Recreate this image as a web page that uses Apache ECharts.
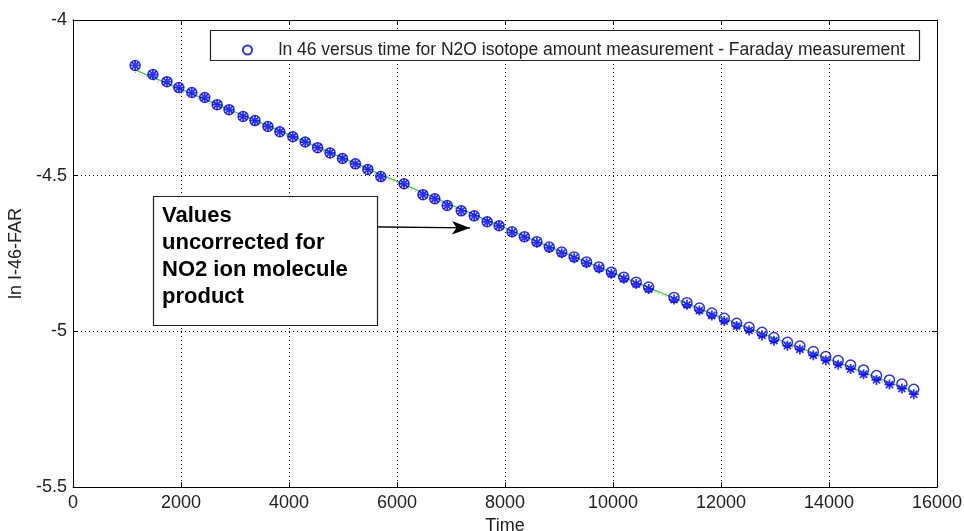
<!DOCTYPE html>
<html>
<head>
<meta charset="utf-8">
<script src="https://cdn.jsdelivr.net/npm/echarts@6/dist/echarts.min.js"></script>
<style>html,body{margin:0;padding:0;background:#fff;overflow:hidden;}#c{width:964px;height:531px;}</style>
</head>
<body>
<div id="c"></div>
<script>
// ---- data ----
const times = [1150,1480,1740,1960,2200,2440,2670,2890,3150,3370,3610,3830,4070,4300,4530,4760,4990,5230,5460,5700,6130,6480,6700,6930,7190,7430,7670,7890,8130,8360,8590,8820,9050,9280,9510,9740,9970,10200,10430,10660,11130,11370,11600,11830,12060,12290,12520,12760,12980,13230,13460,13710,13940,14170,14400,14640,14880,15120,15350,15570];
const circleVals = [-4.146,-4.175,-4.198,-4.217,-4.233,-4.249,-4.272,-4.288,-4.310,-4.323,-4.342,-4.359,-4.375,-4.392,-4.410,-4.427,-4.445,-4.462,-4.480,-4.503,-4.526,-4.561,-4.574,-4.596,-4.613,-4.629,-4.648,-4.661,-4.680,-4.696,-4.712,-4.729,-4.745,-4.761,-4.777,-4.793,-4.810,-4.826,-4.842,-4.858,-4.891,-4.908,-4.925,-4.941,-4.958,-4.974,-4.987,-5.003,-5.020,-5.035,-5.047,-5.065,-5.081,-5.094,-5.108,-5.124,-5.142,-5.156,-5.169,-5.186];
const starVals = [-4.146,-4.175,-4.198,-4.217,-4.233,-4.249,-4.272,-4.288,-4.310,-4.323,-4.342,-4.359,-4.375,-4.392,-4.410,-4.427,-4.445,-4.462,-4.480,-4.503,-4.526,-4.561,-4.574,-4.596,-4.613,-4.629,-4.648,-4.661,-4.682,-4.698,-4.715,-4.732,-4.749,-4.765,-4.781,-4.798,-4.815,-4.831,-4.848,-4.864,-4.898,-4.915,-4.933,-4.949,-4.967,-4.983,-4.997,-5.013,-5.030,-5.046,-5.058,-5.077,-5.093,-5.107,-5.121,-5.138,-5.156,-5.171,-5.184,-5.202];
const fitTimes = [1150,4070,8130,11830,15570];
const fitGreen = [-4.160,-4.374,-4.678,-4.944,-5.194];
const fitRed = [-4.168,-4.380,-4.684,-4.950,-5.200];
const xTicks = {min:0, max:16000, interval:2000};
const yTicks = {min:-5.5, max:-4, interval:0.5};
const legendName = 'ln 46 versus time for N2O isotope amount measurement - Faraday measurement';
const annotationLines = ['Values','uncorrected for','NO2 ion molecule','product'];

const pair = (xs, ys) => xs.map((x,i)=>[x, ys[i]]);
const FONT = 'Arial, "Liberation Sans", sans-serif';
const starPath = 'path://M5,0L5,10M0,5L10,5M1.46,1.46L8.54,8.54M1.46,8.54L8.54,1.46';

const chart = echarts.init(document.getElementById('c'), null, {renderer:'canvas'});
const axisCommon = {
  axisLine:{show:true, onZero:false, lineStyle:{color:'#000', width:1}},
  axisTick:{show:true, inside:true, length:5, lineStyle:{color:'#000'}},
};
chart.setOption({
  animation:false,
  backgroundColor:'#fff',
  grid:{left:73, right:27, top:20, bottom:44, containLabel:false, outerBoundsMode:'none'},
  xAxis:[
    Object.assign({type:'value', position:'bottom', min:xTicks.min, max:xTicks.max, interval:xTicks.interval,
      name:'Time', nameLocation:'middle', nameGap:27,
      nameTextStyle:{fontFamily:FONT, fontSize:18, color:'#222'},
      axisLabel:{fontFamily:FONT, fontSize:18, color:'#222', margin:7, formatter:(v)=>String(v)},
      splitLine:{show:true, lineStyle:{color:'#000', width:1, type:[1,3]}}}, axisCommon),
    Object.assign({type:'value', position:'top', min:xTicks.min, max:xTicks.max, interval:xTicks.interval,
      axisLabel:{show:false}, splitLine:{show:false}}, axisCommon)
  ],
  yAxis:[
    Object.assign({type:'value', position:'left', min:yTicks.min, max:yTicks.max, interval:yTicks.interval,
      name:'ln I-46-FAR', nameLocation:'middle', nameGap:47, nameRotate:90,
      nameTextStyle:{fontFamily:FONT, fontSize:18, color:'#222'},
      axisLabel:{fontFamily:FONT, fontSize:18, color:'#222', margin:6, formatter:(v)=>String(v)},
      splitLine:{show:true, lineStyle:{color:'#000', width:1, type:[1,3]}}}, axisCommon),
    Object.assign({type:'value', position:'right', min:yTicks.min, max:yTicks.max, interval:yTicks.interval,
      axisLabel:{show:false}, splitLine:{show:false}}, axisCommon)
  ],
  legend:{
    show:true, data:[legendName], left:237, top:36, orient:'horizontal',
    itemWidth:52, itemHeight:9, z:20,
    textStyle:{fontFamily:FONT, fontSize:17.5, color:'#222'}
  },
  graphic:[
    {type:'rect', z:15, shape:{x:210.5, y:30.5, width:709, height:30}, style:{fill:'#fff', stroke:'#222', lineWidth:1.2}},
    {type:'rect', z:15, shape:{x:153.5, y:196.5, width:224, height:129}, style:{fill:'#fff', stroke:'#222', lineWidth:1.2}},
    {type:'text', z:16, left:162, top:202, style:{text:annotationLines.join('\n'), fontFamily:FONT, fontSize:22, fontWeight:'bold', fill:'#000', lineHeight:27}}
  ],
  series:[
    {type:'line', name:'fit red', data:pair(fitTimes, fitRed), showSymbol:false, symbol:'none', z:2,
      lineStyle:{color:'#e07070', width:1, type:[1,3]}, silent:true},
    {type:'line', name:'fit green', data:pair(fitTimes, fitGreen), showSymbol:false, symbol:'none', z:2,
      lineStyle:{color:'#44cc44', width:1.3}, silent:true},
    {type:'scatter', name:'stars', data:pair(times, starVals), symbol:starPath, symbolSize:10, z:3,
      itemStyle:{color:'transparent', borderColor:'#0000ff', borderWidth:1.8}},
    {type:'scatter', name:legendName, data:pair(times, circleVals), symbol:'circle', symbolSize:10, z:4,
      itemStyle:{color:'transparent', borderColor:'#0000c8', borderWidth:1.5},
      markLine:{silent:true, symbol:['none','arrow'], symbolSize:[10,18], label:{show:false},
        lineStyle:{color:'#000', width:1.3, type:'solid'},
        data:[[{coord:[5315,-4.664]},{coord:[7352,-4.668]}]]}}
  ]
});
</script>
</body>
</html>
